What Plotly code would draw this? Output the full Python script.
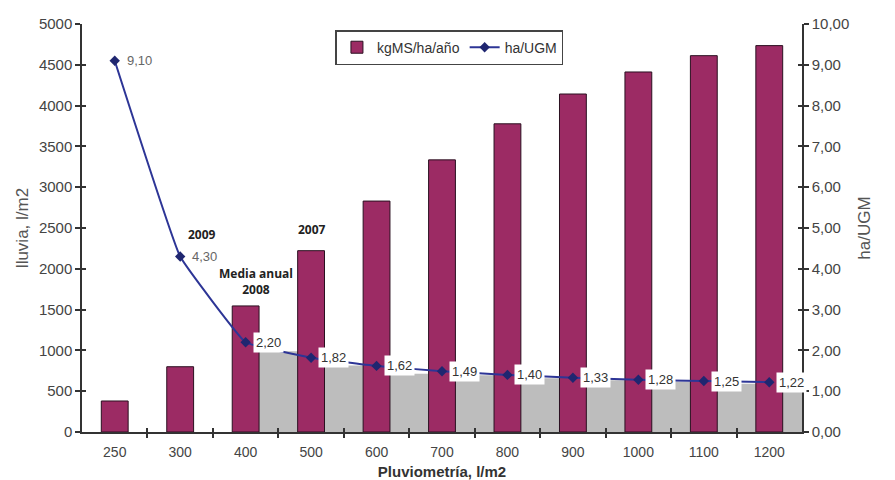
import plotly.graph_objects as go

categories = ["250", "300", "400", "500", "600", "700", "800", "900", "1000", "1100", "1200"]
kgms_ha_anio = [380, 800, 1545, 2222, 2830, 3335, 3777, 4142, 4412, 4612, 4735]
ha_ugm = [9.10, 4.30, 2.20, 1.82, 1.62, 1.49, 1.40, 1.33, 1.28, 1.25, 1.22]
gray_band = [None, None, 990, 815, 715, 695, 660, 635, 615, 590, 560]
left_ticks = [0, 500, 1000, 1500, 2000, 2500, 3000, 3500, 4000, 4500, 5000]
right_ticks = [0, 1, 2, 3, 4, 5, 6, 7, 8, 9, 10]
year_notes = {1: "2009", 2: "Media anual<br>2008", 3: "2007"}

pos = list(range(len(categories)))
bounds = [p + 0.5 for p in pos[:-1]]
fmt = lambda v: f"{v:.2f}".replace(".", ",")

BAR = "#9C2B64"
LINE = "#2D3596"
AX = "#333333"
TXT = "#444444"
FONT = "Liberation Sans"

fig = go.Figure()

fig.add_trace(go.Bar(
    x=pos, y=gray_band, width=1, offset=0,
    marker=dict(color="#BDBDBD", line=dict(width=0)),
    showlegend=False, hoverinfo="skip", xaxis="x", yaxis="y"))

fig.add_trace(go.Bar(
    x=pos, y=kgms_ha_anio, width=0.41, name="kgMS/ha/año",
    marker=dict(color=BAR, line=dict(color="#2a1020", width=1)),
    xaxis="x", yaxis="y"))

fig.add_trace(go.Scatter(
    x=pos, y=ha_ugm, name="ha/UGM", mode="lines+markers",
    line=dict(color=LINE, width=2, shape="spline", smoothing=0.25),
    marker=dict(symbol="diamond", size=8, color="#1F2670"),
    xaxis="x", yaxis="y2"))

# helper traces so overlay axes get drawn
for xa, ya in [("x2", "y"), ("x3", "y"), ("x", "y3"), ("x", "y4")]:
    fig.add_trace(go.Scatter(x=[None], y=[None], xaxis=xa, yaxis=ya,
                             showlegend=False, hoverinfo="skip"))

annotations = []
for i, v in enumerate(ha_ugm):
    boxed = i >= 2
    annotations.append(dict(
        x=pos[i], y=v, xref="x", yref="y2", text=fmt(v),
        xanchor="left", yanchor="middle", xshift=7 if boxed else 9,
        showarrow=False, bgcolor="white" if boxed else None, borderpad=2,
        font=dict(family=FONT, size=13, color="#333333" if boxed else "#666666")))

for i, t in year_notes.items():
    if i == 1:
        annotations.append(dict(x=pos[i], y=ha_ugm[i], xref="x", yref="y2", text=t,
                                xanchor="left", yanchor="middle", xshift=6, yshift=22,
                                showarrow=False,
                                font=dict(family="Open Sans", size=12, color="#222222", weight="bold")))
    else:
        annotations.append(dict(x=pos[i], y=kgms_ha_anio[i], xref="x", yref="y", text=t,
                                xanchor="center", yanchor="bottom",
                                xshift=10 if i == 2 else 1, yshift=6 if i == 2 else 11,
                                showarrow=False,
                                font=dict(family="Open Sans", size=12, color="#222222", weight="bold")))

fig.update_layout(
    width=895, height=480,
    margin=dict(l=82, r=93, t=24, b=48),
    paper_bgcolor="white", plot_bgcolor="white",
    barmode="overlay",
    font=dict(family=FONT, size=13, color=TXT),
    annotations=annotations,
    legend=dict(orientation="h", x=0.352, y=0.985, xanchor="left", yanchor="top",
                bordercolor="#444444", borderwidth=1.5, bgcolor="white",
                font=dict(family=FONT, size=14, color="#333333"),
                itemwidth=30, tracegroupgap=0),
    xaxis=dict(range=[-0.5, 10.5], tickvals=pos, ticktext=categories, ticks="",
               showline=True, linecolor=AX, linewidth=1.5, showgrid=False, zeroline=False,
               automargin=False, ticklabelstandoff=6,
               tickfont=dict(family=FONT, size=14, color=TXT),
               title=dict(text="<b>Pluviometría, l/m2</b>", standoff=10,
                          font=dict(family=FONT, size=15, color="#333333"))),
    xaxis2=dict(overlaying="x", anchor="y", range=[-0.5, 10.5], tickvals=bounds,
                showticklabels=False, ticks="outside", ticklen=5, tickwidth=1.5, tickcolor=AX,
                showline=False, showgrid=False, zeroline=False),
    xaxis3=dict(overlaying="x", anchor="y", range=[-0.5, 10.5], tickvals=bounds,
                showticklabels=False, ticks="inside", ticklen=4, tickwidth=1.5, tickcolor=AX,
                showline=False, showgrid=False, zeroline=False),
    yaxis=dict(range=[0, 5000], tickvals=left_ticks, ticks="outside", ticklen=5,
               tickwidth=1.5, tickcolor=AX, showline=True, linecolor=AX, linewidth=1.5,
               showgrid=False, zeroline=False,
               tickfont=dict(family=FONT, size=15, color=TXT),
               title=dict(text="lluvia, l/m2", standoff=6,
                          font=dict(family=FONT, size=17, color="#555555"))),
    yaxis3=dict(overlaying="y", anchor="x", side="left", range=[0, 5000], tickvals=left_ticks,
                showticklabels=False, ticks="inside", ticklen=4, tickwidth=1.5, tickcolor=AX,
                showline=False, showgrid=False, zeroline=False),
    yaxis2=dict(overlaying="y", anchor="x", side="right", range=[0, 10], tickvals=right_ticks,
                ticktext=[fmt(v) for v in right_ticks], ticks="outside", ticklen=5,
                tickwidth=1.5, tickcolor=AX, showline=True, linecolor=AX, linewidth=1.5,
                showgrid=False, zeroline=False,
                tickfont=dict(family=FONT, size=15, color=TXT),
                title=dict(text="ha/UGM", standoff=10,
                           font=dict(family=FONT, size=17, color="#555555"))),
    yaxis4=dict(overlaying="y", anchor="x", side="right", range=[0, 10], tickvals=right_ticks,
                showticklabels=False, ticks="inside", ticklen=4, tickwidth=1.5, tickcolor=AX,
                showline=False, showgrid=False, zeroline=False),
)

fig.write_html("out.html")
